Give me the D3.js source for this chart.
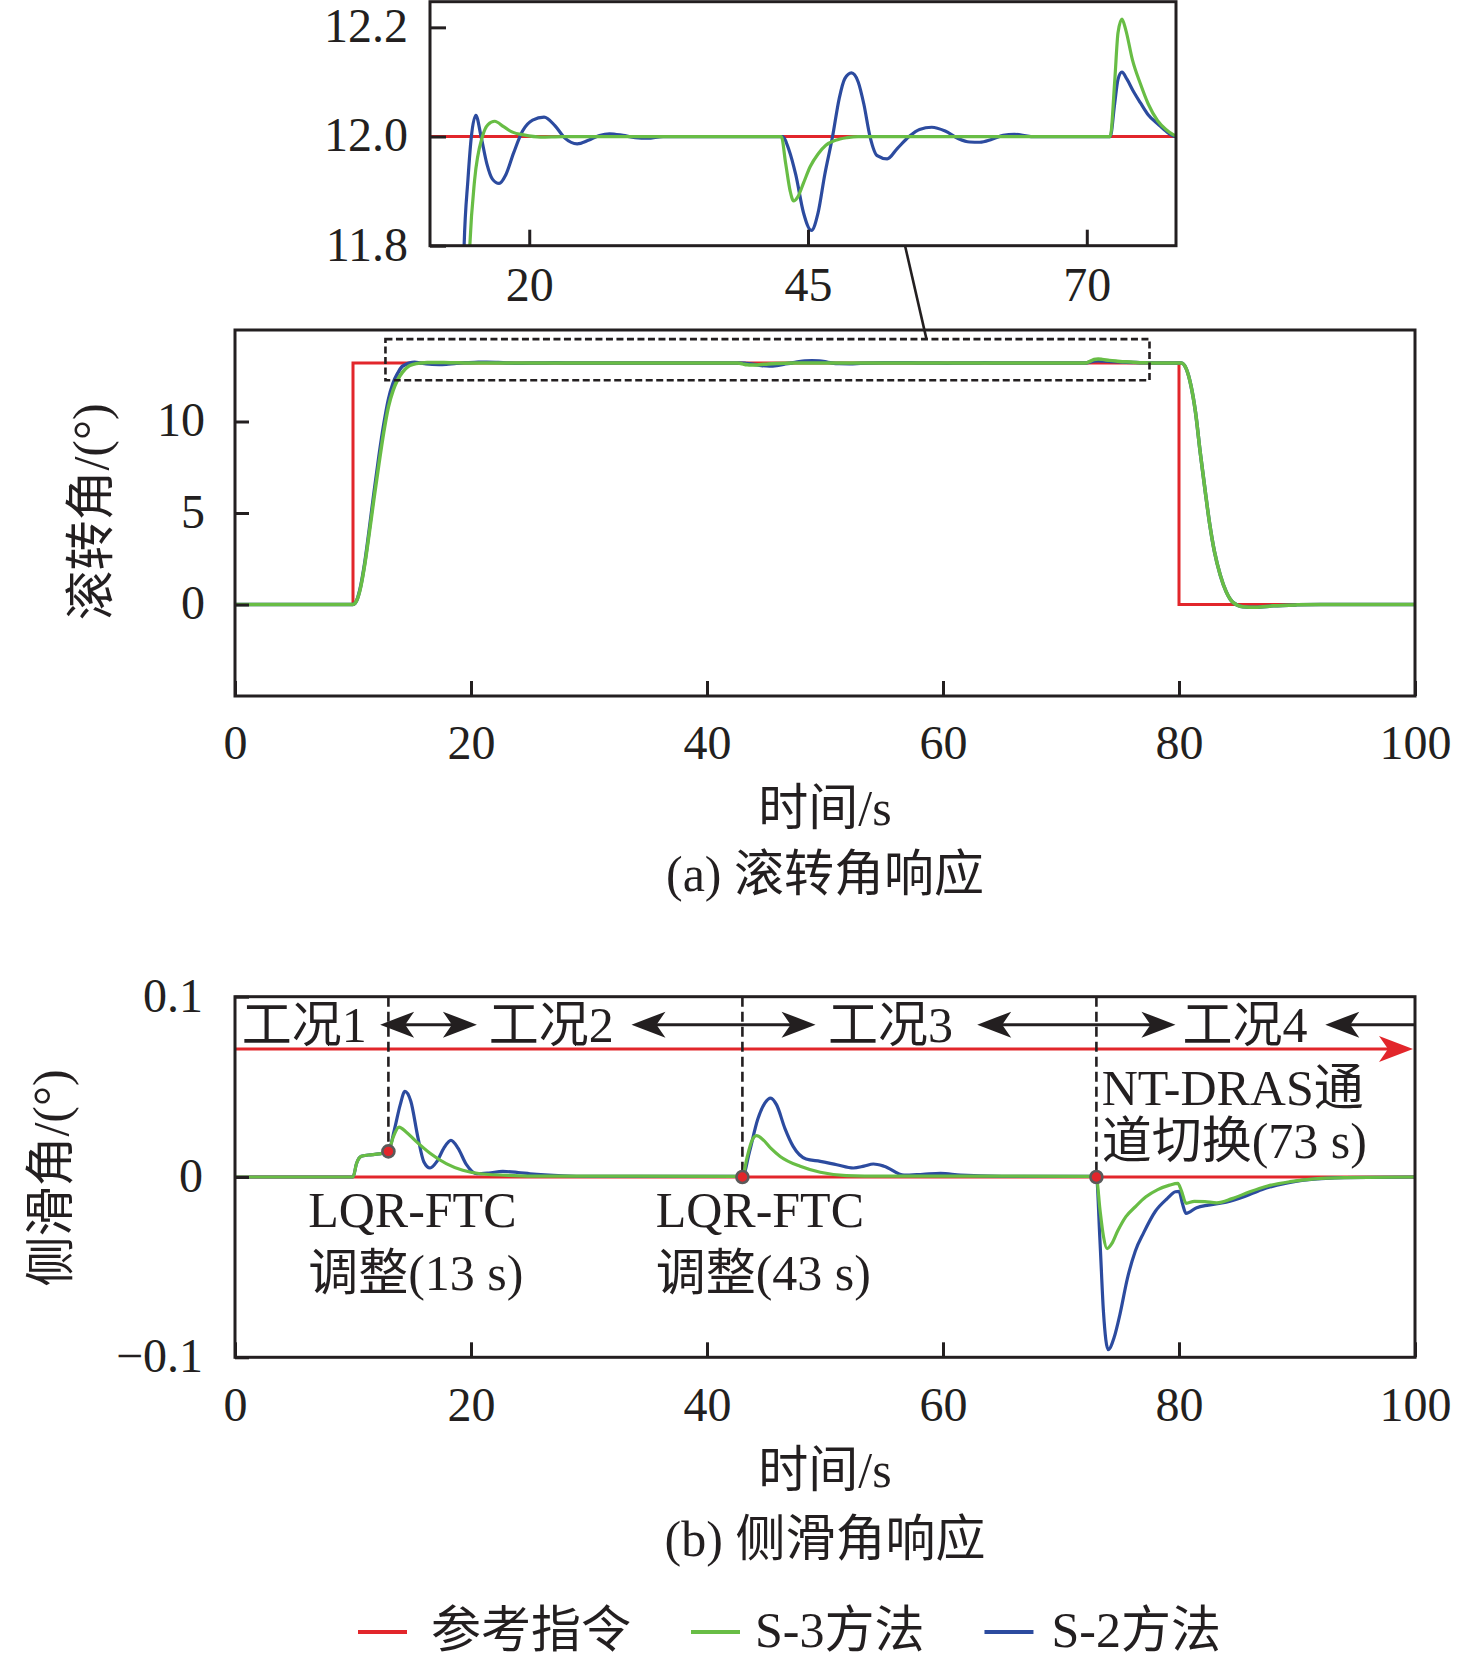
<!DOCTYPE html>
<html><head><meta charset="utf-8">
<script src="https://cdn.jsdelivr.net/npm/d3@7/dist/d3.min.js"></script>
<style>
html,body{margin:0;padding:0;background:#fff;}
svg{display:block;}
</style></head><body>
<svg id="chart" width="1476" height="1663"></svg>
<script>
// ---------------- data ----------------
const timeTicks = [0, 20, 40, 60, 80, 100];
const rollTicks = [0, 5, 10];
const slipTicks = [-0.1, 0, 0.1];
const slipTickLabels = ["\u22120.1", "0", "0.1"];
const zoomTimeTicks = [20, 45, 70];
const zoomRollTicks = [11.8, 12.0, 12.2];
const zoomRollLabels = ["11.8", "12.0", "12.2"];
const rollRef = 13.2;          // reference roll command in panel (a)
const zoomRefLabel = 12.0;     // the same level as labelled in the inset

const seriesNames = ["参考指令", "S-3方法", "S-2方法"];

// reference command
const refRollTime = [0, 10, 10, 80, 80, 100];
const refRoll     = [0, 0, 13.2, 13.2, 0, 0];
const refSlipTime = [0, 100];
const refSlip     = [0, 0];

// S-2 roll angle
const s2RollTime = [0,10,10.3,10.6,11.0,11.4,11.8,12.2,12.6,13.0,13.4,13.8,14.16,14.5,14.81,15.21,15.68,16.2,16.7,17.3,17.9,18.6,19.4,20.3,21.33,22.3,23.2,24.3,25.3,26.3,27.2,28.4,29.5,30.6,32,
  42.7,43.3,43.9,44.6,45.3,45.9,46.5,47.2,47.8,48.3,48.9,49.5,50.0,50.56,51.2,52.1,53.0,54.07,55.0,56.1,57.3,58.5,59.5,60.4,61.5,62.5,63.5,65,
  72.1,72.5,72.8,73.15,73.6,74.2,74.8,75.5,76.35,77.2,78,
  80.2,80.6,81.0,81.4,81.8,82.2,82.6,83.0,83.5,84.0,84.6,85.4,86.5,88,90,92,100];
const s2Roll = [0,0,0.2,0.85,2.3,4.2,6.2,8.1,9.8,11.2,12.1,12.65,13.0,13.12,13.2,13.239,13.2,13.15,13.122,13.114,13.13,13.17,13.21,13.23,13.2355,13.22,13.197,13.1865,13.193,13.202,13.205,13.202,13.198,13.197,13.2,
  13.2,13.175,13.13,13.06,13.028,13.06,13.13,13.2,13.27,13.306,13.3165,13.3,13.26,13.2,13.165,13.159,13.178,13.2,13.213,13.217,13.21,13.196,13.19,13.1895,13.195,13.202,13.204,13.2,
  13.2,13.26,13.305,13.318,13.305,13.282,13.262,13.24,13.2235,13.208,13.2,
  13.2,12.9,12.0,10.5,8.3,6.3,4.4,2.9,1.6,0.7,0.1,-0.12,-0.15,-0.07,-0.02,0,0];

// S-3 roll angle
const s3RollTime = [0,10,10.3,10.6,11.0,11.4,11.8,12.2,12.6,13.0,13.4,13.8,14.2,14.67,15.1,15.8,16.3,16.9,17.7,18.5,19.5,21.0,23,
  42.6,43.0,43.4,43.7,44.1,44.6,45.2,45.9,46.6,47.46,48.5,49.5,
  72.1,72.5,72.8,73.15,73.5,74.1,74.8,75.5,76.35,77.1,78,
  80.2,80.6,81.0,81.4,81.8,82.2,82.6,83.0,83.5,84.0,84.6,85.4,86.5,88,90,92,100];
const s3Roll = [0,0,0.2,0.8,2.2,4.0,5.9,7.7,9.4,10.8,11.7,12.3,12.7,13.0,13.12,13.2,13.222,13.228,13.218,13.208,13.203,13.199,13.2,
  13.2,13.15,13.1,13.082,13.09,13.115,13.145,13.168,13.184,13.193,13.198,13.2,
  13.2,13.3,13.39,13.415,13.395,13.34,13.297,13.26,13.229,13.213,13.202,
  13.2,12.9,12.0,10.5,8.3,6.3,4.4,2.9,1.6,0.7,0.1,-0.12,-0.15,-0.07,-0.02,0,0];

// S-2 sideslip angle
const s2SlipTime = [0,10,10.3,10.7,11.3,12.2,13.0,13.5,14.0,14.4,14.9,15.5,16.0,16.53,17.1,17.7,18.3,18.9,19.6,20.5,21.5,22.7,24.0,25.0,27.8,30,42.9,
  43.0,43.6,44.3,44.9,45.4,45.9,46.6,47.3,48.4,49.6,51.0,52.4,53.3,54.1,55.0,56.7,58.3,59.8,61.5,65,72.9,
  73.0,73.3,73.6,74.0,74.5,75.0,75.6,76.3,77.0,78.0,79.0,79.7,80.0,80.3,80.6,81.5,82.5,84.0,85.5,87.0,89.0,91.0,94.0,100];
const s2Slip = [0,0,0.0075,0.0115,0.0122,0.0128,0.0142,0.026,0.040,0.0475,0.042,0.022,0.0085,0.005,0.0085,0.016,0.0203,0.016,0.007,0.0018,0.0022,0.0031,0.0025,0.0018,0.0007,0.0004,0.0003,
  0,0.014,0.032,0.041,0.0438,0.040,0.027,0.017,0.010,0.0087,0.0068,0.005,0.006,0.0072,0.006,0.001,0.0015,0.002,0.001,0.0004,0.0003,
  0,-0.035,-0.075,-0.0958,-0.089,-0.076,-0.057,-0.041,-0.031,-0.019,-0.012,-0.0082,-0.008,-0.015,-0.0202,-0.017,-0.0156,-0.014,-0.011,-0.007,-0.0035,-0.0015,-0.0003,0];

// S-3 sideslip angle
const s3SlipTime = [0,10,10.3,10.7,11.3,12.2,13.0,13.4,13.9,14.5,15.3,16.5,17.9,19.3,20.8,23.6,26,42.9,
  43.0,43.4,43.8,44.2,44.7,45.4,46.2,47.9,49.6,51.8,55,72.9,
  73.0,73.3,73.6,73.9,74.3,74.8,75.5,76.3,77.2,78.2,79.2,79.9,80.2,80.6,81.3,82.2,83.2,84.5,86.0,87.5,89.4,91.5,94,100];
const s3Slip = [0,0,0.0075,0.0115,0.0122,0.0128,0.0142,0.022,0.0277,0.025,0.020,0.0133,0.0074,0.0037,0.0018,0.0008,0.0005,0.0004,
  0,0.011,0.020,0.0229,0.021,0.016,0.0114,0.0059,0.0026,0.0008,0.0005,0.0004,
  0,-0.018,-0.033,-0.0397,-0.037,-0.030,-0.022,-0.0165,-0.011,-0.007,-0.0045,-0.0035,-0.0075,-0.0146,-0.0135,-0.0137,-0.0143,-0.012,-0.0082,-0.005,-0.0026,-0.001,-0.0003,0];

// zoom window marked in panel (a)
const zoomRectTime = [12.75, 77.5];
const zoomRectRoll = [12.25, 14.5];
const connectorFrom = [53.7, 11.8];   // inset units (time, labelled roll)
const connectorTo   = [58.6, 14.5];   // panel (a) units

// events in panel (b)
const eventTime = [13, 43, 73];
const eventSlip = [0.0142, 0, 0];

// operating-condition strip in panel (b)
const conditionNames = ["工况1", "工况2", "工况3", "工况4"];
const conditionStart = [0.57, 21.5, 50.25, 80.3];
const conditionRow = 0.0845;
const arrowFrom = [12.3, 33.6, 62.9, 92.4];
const arrowTo   = [20.5, 49.2, 79.7, 100];
const arrowKind = ["both", "both", "both", "start"];
const switchArrowSlip = 0.071;

// annotations in panel (b)
const noteTime  = [6.2, 35.65, 73.45];
const noteLine1 = ["LQR-FTC", "LQR-FTC", "NT-DRAS通"];
const noteLine2 = ["调整(13 s)", "调整(43 s)", "道切换(73 s)"];
const noteSlip1 = [-0.0277, -0.0277, 0.0400];
const noteSlip2 = [-0.0626, -0.0626, 0.0107];

// ---------------- drawing ----------------
const FONT = '"Liberation Serif","Noto Sans CJK SC",serif';
const INK = "#231f20";
const COL = { ref: "#e2262b", s3: "#68bd45", s2: "#2c4b9f" };
const zip = (t, v) => t.map((d, i) => [d, v[i]]);

const svg = d3.select("#chart");
svg.append("rect").attr("width", 1476).attr("height", 1663).attr("fill", "#fff");
const defs = svg.append("defs");

const xA = d3.scaleLinear().domain([0, 100]).range([235, 1415]);
const yA = d3.scaleLinear().domain([-5, 15]).range([696, 330]);
const xZ = d3.scaleLinear().domain([11.1, 78]).range([430, 1176]);
const yZ = d3.scaleLinear().domain([11.8, 12.247]).range([245.7, 1.7]);
const xB = d3.scaleLinear().domain([0, 100]).range([235, 1415]);
const yB = d3.scaleLinear().domain([-0.1, 0.1]).range([1357.3, 996.7]);

function clip(id, x, y) {
  const [x0, x1] = x.range(), [y0, y1] = y.range();
  defs.append("clipPath").attr("id", id).append("rect")
    .attr("x", Math.min(x0, x1)).attr("y", Math.min(y0, y1))
    .attr("width", Math.abs(x1 - x0)).attr("height", Math.abs(y1 - y0));
  return `url(#${id})`;
}

function lineGen(x, y, curve, shift = 0) {
  return d3.line().x(d => x(d[0])).y(d => y(d[1] - shift)).curve(curve);
}

function frameAndAxes(x, y, xt, yt, opt) {
  const g = svg.append("g");
  const [xl, xr] = x.range(), [yb, ytp] = y.range();
  const ax = d3.axisBottom(x).tickValues(xt).tickSize(-opt.xTick).tickFormat(opt.xFmt || d3.format("d"));
  g.append("g").attr("transform", `translate(0,${yb})`).call(ax)
    .attr("font-family", FONT).attr("font-size", 48).attr("color", INK)
    .call(s => s.select(".domain").remove())
    .call(s => s.selectAll("line").attr("stroke-width", 3))
    .call(s => s.selectAll("text").attr("y", opt.xLabelOff).attr("dy", "0.34em").attr("fill", INK));
  const ay = d3.axisLeft(y).tickValues(yt).tickSize(-opt.yTick).tickPadding(opt.yPad).tickFormat(opt.yFmt || d3.format("d"));
  g.append("g").attr("transform", `translate(${xl},0)`).call(ay)
    .attr("font-family", FONT).attr("font-size", 48).attr("color", INK)
    .call(s => s.select(".domain").remove())
    .call(s => s.selectAll("line").attr("stroke-width", 3))
    .call(s => s.selectAll("text").attr("dy", "0.3em").attr("fill", INK));
  g.append("rect").attr("x", xl).attr("y", ytp).attr("width", xr - xl).attr("height", yb - ytp)
    .attr("fill", "none").attr("stroke", INK).attr("stroke-width", 3);
  return g;
}

function text(str, x, y, size, anchor = "middle") {
  return svg.append("text").attr("x", x).attr("y", y).attr("font-family", FONT)
    .attr("font-size", size).attr("fill", INK).attr("text-anchor", anchor).text(str);
}

// ---------- inset (zoom of panel a) ----------
const zShift = rollRef - zoomRefLabel;
const gZ = svg.append("g").attr("clip-path", clip("clipZ", xZ, yZ));
gZ.append("path").datum(zip(refRollTime, refRoll)).attr("d", lineGen(xZ, yZ, d3.curveLinear, zShift))
  .attr("fill", "none").attr("stroke", COL.ref).attr("stroke-width", 3);
gZ.append("path").datum(zip(s2RollTime, s2Roll)).attr("d", lineGen(xZ, yZ, d3.curveMonotoneX, zShift))
  .attr("fill", "none").attr("stroke", COL.s2).attr("stroke-width", 3.2);
gZ.append("path").datum(zip(s3RollTime, s3Roll)).attr("d", lineGen(xZ, yZ, d3.curveMonotoneX, zShift))
  .attr("fill", "none").attr("stroke", COL.s3).attr("stroke-width", 3.2);
frameAndAxes(xZ, yZ, zoomTimeTicks, zoomRollTicks, {
  xTick: 16, yTick: 16, yPad: 22, xLabelOff: 38.5,
  yFmt: (d, i) => zoomRollLabels[i]
});

// ---------- panel (a) ----------
const gA = svg.append("g").attr("clip-path", clip("clipA", xA, yA));
gA.append("path").datum(zip(refRollTime, refRoll)).attr("d", lineGen(xA, yA, d3.curveLinear))
  .attr("fill", "none").attr("stroke", COL.ref).attr("stroke-width", 3);
gA.append("path").datum(zip(s2RollTime, s2Roll)).attr("d", lineGen(xA, yA, d3.curveMonotoneX))
  .attr("fill", "none").attr("stroke", COL.s2).attr("stroke-width", 3.5);
gA.append("path").datum(zip(s3RollTime, s3Roll)).attr("d", lineGen(xA, yA, d3.curveMonotoneX))
  .attr("fill", "none").attr("stroke", COL.s3).attr("stroke-width", 3.5);

// zoom window and connector
svg.append("rect")
  .attr("x", xA(zoomRectTime[0])).attr("y", yA(zoomRectRoll[1]))
  .attr("width", xA(zoomRectTime[1]) - xA(zoomRectTime[0]))
  .attr("height", yA(zoomRectRoll[0]) - yA(zoomRectRoll[1]))
  .attr("fill", "none").attr("stroke", INK).attr("stroke-width", 2.6).attr("stroke-dasharray", "7,3.5");
svg.append("line")
  .attr("x1", xZ(connectorFrom[0])).attr("y1", yZ(connectorFrom[1]))
  .attr("x2", xA(connectorTo[0])).attr("y2", yA(connectorTo[1]))
  .attr("stroke", INK).attr("stroke-width", 2.6);

frameAndAxes(xA, yA, timeTicks, rollTicks, { xTick: 15, yTick: 14, yPad: 30, xLabelOff: 46.5 });
text("时间/s", 825, 825, 50);
text("(a) 滚转角响应", 825, 891, 50);
svg.append("text").attr("transform", "translate(90,512) rotate(-90)").attr("dy", "0.35em")
  .attr("font-family", FONT).attr("font-size", 50).attr("fill", INK).attr("text-anchor", "middle")
  .text("滚转角/(°)");

// ---------- panel (b) ----------
function arrowHead(g, tipX, y, dir, color) {
  const L = 34, hw = 13, notch = 9;
  const p = d3.path();
  p.moveTo(tipX, y);
  p.lineTo(tipX - dir * L, y - hw);
  p.lineTo(tipX - dir * (L - notch), y);
  p.lineTo(tipX - dir * L, y + hw);
  p.closePath();
  g.append("path").attr("d", p.toString()).attr("fill", color);
}

const gB = svg.append("g").attr("clip-path", clip("clipB", xB, yB));
// red switching arrow
{
  const yy = yB(switchArrowSlip), tip = xB(100) - 2;
  gB.append("line").attr("x1", xB(0)).attr("x2", tip - 20).attr("y1", yy).attr("y2", yy)
    .attr("stroke", COL.ref).attr("stroke-width", 3.2);
  arrowHead(gB, tip, yy, 1, COL.ref);
}
// condition strip
conditionNames.forEach((n, i) => {
  svg.append("text").attr("x", xB(conditionStart[i])).attr("y", yB(conditionRow)).attr("dy", "0.34em")
    .attr("font-family", FONT).attr("font-size", 50).attr("fill", INK).text(n);
});
arrowFrom.forEach((a, i) => {
  const yy = yB(conditionRow);
  const x0 = xB(a), x1 = xB(arrowTo[i]);
  gB.append("line").attr("x1", x0 + 10).attr("x2", arrowKind[i] === "both" ? x1 - 10 : x1)
    .attr("y1", yy).attr("y2", yy).attr("stroke", INK).attr("stroke-width", 3);
  arrowHead(gB, x0, yy, -1, INK);
  if (arrowKind[i] === "both") arrowHead(gB, x1, yy, 1, INK);
});
// event dashed lines
eventTime.forEach((t, i) => {
  gB.append("line").attr("x1", xB(t)).attr("x2", xB(t)).attr("y1", yB(0.1)).attr("y2", yB(eventSlip[i]))
    .attr("stroke", INK).attr("stroke-width", 2.6).attr("stroke-dasharray", "10,5");
});
gB.append("path").datum(zip(refSlipTime, refSlip)).attr("d", lineGen(xB, yB, d3.curveLinear))
  .attr("fill", "none").attr("stroke", COL.ref).attr("stroke-width", 3.2);
gB.append("path").datum(zip(s2SlipTime, s2Slip)).attr("d", lineGen(xB, yB, d3.curveMonotoneX))
  .attr("fill", "none").attr("stroke", COL.s2).attr("stroke-width", 3.2);
gB.append("path").datum(zip(s3SlipTime, s3Slip)).attr("d", lineGen(xB, yB, d3.curveMonotoneX))
  .attr("fill", "none").attr("stroke", COL.s3).attr("stroke-width", 3.2);
eventTime.forEach((t, i) => {
  gB.append("circle").attr("cx", xB(t)).attr("cy", yB(eventSlip[i])).attr("r", 6)
    .attr("fill", COL.ref).attr("stroke", "#5a5a5a").attr("stroke-width", 2.6);
});
noteTime.forEach((t, i) => {
  text(noteLine1[i], xB(t), yB(noteSlip1[i]), 50, "start");
  text(noteLine2[i], xB(t), yB(noteSlip2[i]), 50, "start");
});

frameAndAxes(xB, yB, timeTicks, slipTicks, {
  xTick: 15, yTick: 14, yPad: 32, xLabelOff: 47,
  yFmt: (d, i) => slipTickLabels[i]
});
text("时间/s", 825, 1487, 50);
text("(b) 侧滑角响应", 825, 1556, 50);
svg.append("text").attr("transform", "translate(50,1178) rotate(-90)").attr("dy", "0.35em")
  .attr("font-family", FONT).attr("font-size", 50).attr("fill", INK).attr("text-anchor", "middle")
  .text("侧滑角/(°)");

// ---------- legend ----------
{
  const cols = [COL.ref, COL.s3, COL.s2];
  const textOff = [73, 64, 67];
  let x = 358;
  const y = 1632;
  seriesNames.forEach((n, i) => {
    svg.append("line").attr("x1", x).attr("x2", x + 49).attr("y1", y).attr("y2", y)
      .attr("stroke", cols[i]).attr("stroke-width", 4);
    const t = svg.append("text").attr("x", x + textOff[i]).attr("y", y).attr("dy", "0.3em")
      .attr("font-family", FONT).attr("font-size", 50).attr("fill", INK).text(n);
    x += textOff[i] + t.node().getComputedTextLength() + 60;
  });
}
</script>
</body></html>
